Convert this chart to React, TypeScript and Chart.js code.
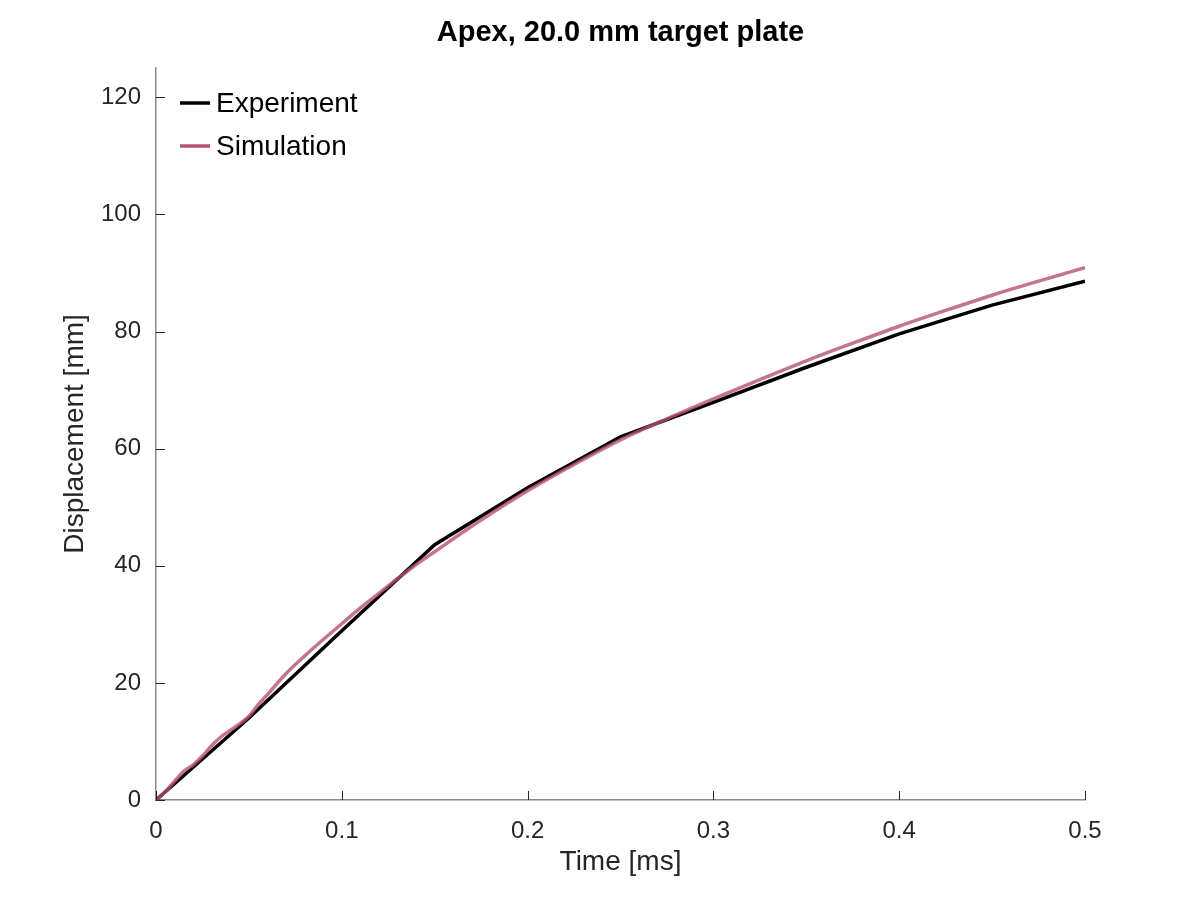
import { useEffect, useRef } from "react";
import { Chart, registerables } from "chart.js";

Chart.register(...registerables);

const TITLE = "Apex, 20.0 mm target plate";
const X_LABEL = "Time [ms]";
const Y_LABEL = "Displacement [mm]";

const X_TICKS = [0, 0.1, 0.2, 0.3, 0.4, 0.5];
const Y_TICKS = [0, 20, 40, 60, 80, 100, 120];

const expTime = [0, 0.05, 0.1, 0.15, 0.2, 0.25, 0.3, 0.35, 0.4, 0.45, 0.5];
const expDisp = [0, 14.0, 28.9, 43.6, 53.3, 62.0, 67.9, 73.9, 79.6, 84.5, 88.6];

const simTime = [
  0, 0.005, 0.01, 0.015, 0.02, 0.025, 0.03, 0.035, 0.04, 0.045, 0.05, 0.055,
  0.06, 0.07, 0.08, 0.09, 0.1, 0.11, 0.12, 0.13, 0.14, 0.15, 0.175, 0.2,
  0.225, 0.25, 0.275, 0.3, 0.325, 0.35, 0.375, 0.4, 0.425, 0.45, 0.475, 0.5,
];
const simDisp = [
  0, 1.4, 3.2, 4.9, 6.0, 7.5, 9.3, 10.8, 11.9, 13.0, 14.3, 16.3,
  18.0, 21.6, 24.6, 27.4, 30.1, 32.8, 35.3, 37.8, 40.2, 42.4, 47.8, 52.8,
  57.3, 61.5, 65.1, 68.5, 71.8, 75.0, 78.0, 80.9, 83.6, 86.2, 88.6, 90.9,
];

const FONT = '"Liberation Sans", Arial, Helvetica, sans-serif';

const matlabDecor = {
  id: "matlabDecor",
  afterDraw(chart: any) {
    const { ctx, chartArea, scales } = chart;
    const { left, right, top, bottom } = chartArea;
    ctx.save();
    // inward tick marks
    ctx.strokeStyle = "#262626";
    ctx.lineWidth = 1;
    ctx.beginPath();
    X_TICKS.forEach((v) => {
      const x = Math.round(scales.x.getPixelForValue(v)) + 0.5;
      ctx.moveTo(x, bottom);
      ctx.lineTo(x, bottom - 9);
    });
    Y_TICKS.forEach((v) => {
      const y = Math.round(scales.y.getPixelForValue(v)) + 0.5;
      ctx.moveTo(left, y);
      ctx.lineTo(left + 9, y);
    });
    ctx.stroke();

    // title
    ctx.fillStyle = "#000000";
    ctx.font = `bold 29px ${FONT}`;
    ctx.textAlign = "center";
    ctx.textBaseline = "middle";
    ctx.fillText(TITLE, (left + right) / 2, 33);

    // axis titles
    ctx.fillStyle = "#262626";
    ctx.font = `28px ${FONT}`;
    ctx.fillText(X_LABEL, (left + right) / 2, 862);
    ctx.save();
    ctx.translate(75, (top + bottom) / 2);
    ctx.rotate(-Math.PI / 2);
    ctx.fillText(Y_LABEL, 0, 0);
    ctx.restore();

    // legend
    ctx.textAlign = "left";
    ctx.font = `28px ${FONT}`;
    chart.data.datasets.forEach((ds: any, i: number) => {
      const y = 103 + i * 43;
      ctx.strokeStyle = ds.legendColor;
      ctx.lineWidth = 3.5;
      ctx.beginPath();
      ctx.moveTo(180, y);
      ctx.lineTo(210, y);
      ctx.stroke();
      ctx.fillStyle = "#000000";
      ctx.fillText(ds.label, 216, y + 1);
    });
    ctx.restore();
  },
};

export default function App() {
  const ref = useRef<HTMLCanvasElement | null>(null);

  useEffect(() => {
    if (!ref.current) return;
    const chart = new Chart(ref.current, {
      type: "line",
      data: {
        datasets: [
          {
            label: "Experiment",
            data: expTime.map((t, i) => ({ x: t, y: expDisp[i] })),
            borderColor: "#000000",
            legendColor: "#000000",
            borderWidth: 3.5,
            pointRadius: 0,
            tension: 0,
            order: 2,
          } as any,
          {
            label: "Simulation",
            data: simTime.map((t, i) => ({ x: t, y: simDisp[i] })),
            borderColor: "rgba(181,82,110,0.8)",
            legendColor: "#b5526e",
            borderWidth: 3.5,
            pointRadius: 0,
            cubicInterpolationMode: "monotone",
            order: 1,
          } as any,
        ],
      },
      options: {
        animation: false,
        responsive: false,
        layout: { padding: { top: 68, right: 115, left: 0, bottom: 0 } },
        plugins: {
          legend: { display: false },
          title: { display: false },
          tooltip: { enabled: false },
        },
        scales: {
          x: {
            type: "linear",
            min: 0,
            max: 0.5,
            afterBuildTicks: (s: any) => {
              s.ticks = X_TICKS.map((v) => ({ value: v }));
            },
            afterFit: (s: any) => {
              s.height = 100;
            },
            grid: { display: false, drawTicks: false },
            border: { display: true, color: "#888888", width: 1.5 },
            ticks: {
              color: "#262626",
              padding: 17,
              maxRotation: 0,
              autoSkip: false,
              font: { family: FONT, size: 24 },
              callback: (v: any) => String(Number(Number(v).toFixed(2))),
            },
          },
          y: {
            type: "linear",
            min: 0,
            max: 125,
            afterBuildTicks: (s: any) => {
              s.ticks = Y_TICKS.map((v) => ({ value: v }));
            },
            afterFit: (s: any) => {
              s.width = 156;
            },
            grid: { display: false, drawTicks: false },
            border: { display: true, color: "#888888", width: 1.5 },
            ticks: {
              color: "#262626",
              padding: 15,
              autoSkip: false,
              font: { family: FONT, size: 24 },
              callback: (v: any) => String(v),
            },
          },
        },
      },
      plugins: [matlabDecor],
    });
    return () => chart.destroy();
  }, []);

  return (
    <div
      style={{
        position: "fixed",
        left: 0,
        top: 0,
        width: 1200,
        height: 900,
        background: "#ffffff",
      }}
    >
      <canvas ref={ref} width={1200} height={900} />
    </div>
  );
}
